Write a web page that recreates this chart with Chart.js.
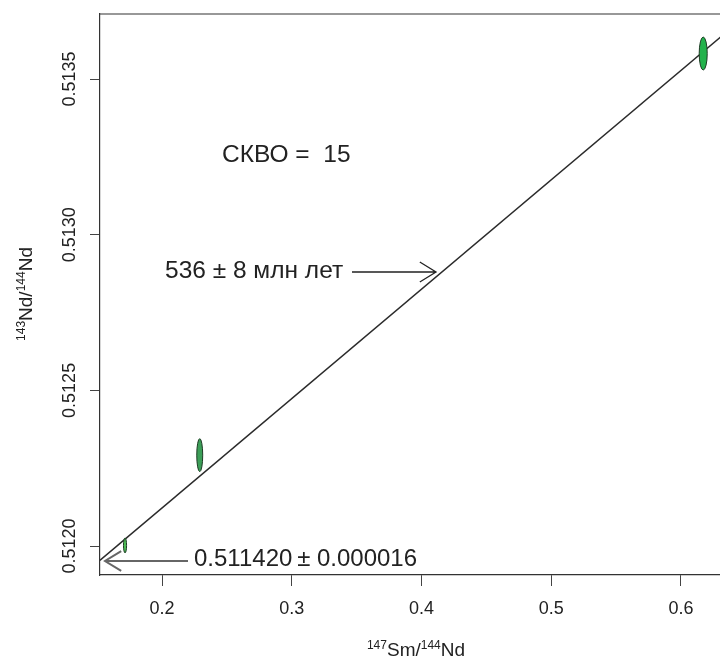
<!DOCTYPE html>
<html>
<head>
<meta charset="utf-8">
<script src="https://cdn.jsdelivr.net/npm/chart.js@4.4.1/dist/chart.umd.min.js"></script>
<style>
	html, body { margin: 0; padding: 0; background: #fff; overflow: hidden; }
	canvas { display: block; }
</style>
</head>
<body>
<canvas id="myChart" width="730" height="659"></canvas>
<script>
// ticks
const xTicks = [0.2, 0.3, 0.4, 0.5, 0.6];
const yTicks = [0.512, 0.5125, 0.513, 0.5135];

// samples (centres and half-axes of error ellipses)
const sampleX = [0.1714, 0.229, 0.6172];
const sampleY = [0.512002, 0.512292, 0.513582];
const errX = [0.0012, 0.0023, 0.0031];
const errY = [0.000024, 0.000053, 0.000053];
const ellipseFill = ['#4dbb55', '#3c9e58', '#22b24b'];

// isochron endpoints
const isoX = [0.152, 0.634];
const isoY = [0.511954, 0.513647];

const FONT = "'Liberation Sans', Arial, sans-serif";

const deco = {
	id: 'deco',
	afterDatasetsDraw(chart) {
		const { ctx, chartArea: a, scales } = chart;
		const x = scales.x, y = scales.y;
		ctx.save();
		// top of the box
		ctx.strokeStyle = '#333';
		ctx.lineWidth = 1.2;
		ctx.beginPath();
		ctx.moveTo(a.left, a.top);
		ctx.lineTo(a.right + 10, a.top);
		ctx.stroke();

		// error ellipses
		sampleX.forEach((v, i) => {
			const cx = x.getPixelForValue(v);
			const cy = y.getPixelForValue(sampleY[i]);
			const rx = Math.abs(x.getPixelForValue(v + errX[i]) - cx);
			const ry = Math.abs(y.getPixelForValue(sampleY[i] + errY[i]) - cy);
			ctx.beginPath();
			ctx.ellipse(cx, cy, rx, ry, 0, 0, Math.PI * 2);
			ctx.fillStyle = ellipseFill[i];
			ctx.fill();
			ctx.lineWidth = 1;
			ctx.strokeStyle = '#1d3b24';
			ctx.stroke();
		});
		ctx.restore();
	},
	afterDraw(chart) {
		const { ctx, scales } = chart;
		const y = scales.y;
		ctx.save();
		ctx.fillStyle = '#222';

		// y tick labels, vertical like R
		ctx.font = '18px ' + FONT;
		ctx.textAlign = 'center';
		ctx.textBaseline = 'middle';
		yTicks.forEach(v => {
			ctx.save();
			ctx.translate(70, y.getPixelForValue(v));
			ctx.rotate(-Math.PI / 2);
			ctx.fillText(v.toFixed(4), 0, 0);
			ctx.restore();
		});

		// axis titles with superscripts
		const isoLabel = (parts, cx, cy, rot) => {
			ctx.save();
			ctx.translate(cx, cy);
			ctx.rotate(rot);
			ctx.textAlign = 'left';
			ctx.textBaseline = 'alphabetic';
			let w = 0;
			parts.forEach(p => { ctx.font = (p[1] ? '12px ' : '19px ') + FONT; w += ctx.measureText(p[0]).width; });
			let px = -w / 2;
			parts.forEach(p => {
				ctx.font = (p[1] ? '12px ' : '19px ') + FONT;
				ctx.fillText(p[0], px, p[1] ? -7 : 0);
				px += ctx.measureText(p[0]).width;
			});
			ctx.restore();
		};
		isoLabel([['147', 1], ['Sm/', 0], ['144', 1], ['Nd', 0]], 416, 656, 0);
		isoLabel([['143', 1], ['Nd/', 0], ['144', 1], ['Nd', 0]], 32, 294, -Math.PI / 2);

		// annotations
		ctx.textAlign = 'left';
		ctx.textBaseline = 'middle';
		ctx.font = '24.5px ' + FONT;
		ctx.fillText('СКВО =  15', 222, 155);
		ctx.fillText('536 ± 8 млн лет', 165, 271);
		ctx.font = '24px ' + FONT;
		ctx.fillText('0.511420\u2009± 0.000016', 194, 559);

		const arrow = (x1, y1, x2, y2, color, lw) => {
			const ang = Math.atan2(y2 - y1, x2 - x1);
			const hl = 19, ha = 0.55;
			ctx.strokeStyle = color;
			ctx.lineWidth = lw;
			ctx.beginPath();
			ctx.moveTo(x1, y1);
			ctx.lineTo(x2, y2);
			ctx.moveTo(x2 - hl * Math.cos(ang - ha), y2 - hl * Math.sin(ang - ha));
			ctx.lineTo(x2, y2);
			ctx.lineTo(x2 - hl * Math.cos(ang + ha), y2 - hl * Math.sin(ang + ha));
			ctx.stroke();
		};
		arrow(352, 272, 436, 272, '#222', 1.3);
		arrow(188, 561, 105, 561, '#666', 2);
		ctx.restore();
	},
};

new Chart(document.getElementById('myChart').getContext('2d'), {
	type: 'scatter',
	data: {
		datasets: [
			{
				type: 'line',
				data: isoX.map((v, i) => ({ x: v, y: isoY[i] })),
				borderColor: '#2b2b2b',
				borderWidth: 1.4,
				pointRadius: 0,
				fill: false,
			},
			{
				data: sampleX.map((v, i) => ({ x: v, y: sampleY[i] })),
				pointRadius: 0,
				backgroundColor: ellipseFill,
			},
		],
	},
	options: {
		responsive: false,
		animation: false,
		devicePixelRatio: 1,
		layout: { padding: { top: 14, right: 5, left: 0, bottom: 0 } },
		plugins: { legend: { display: false }, tooltip: { enabled: false } },
		scales: {
			x: {
				type: 'linear',
				min: 0.1521,
				max: 0.634,
				afterBuildTicks: s => { s.ticks = xTicks.map(v => ({ value: v })); },
				afterFit: s => { s.height = 84; },
				ticks: {
					color: '#222',
					font: { family: FONT, size: 18 },
					padding: 12,
					callback: v => v.toFixed(1),
				},
				border: { display: true, color: '#333', width: 1.2 },
				grid: { drawOnChartArea: false, drawTicks: true, tickLength: 11, color: '#444', lineWidth: 1 },
			},
			y: {
				type: 'linear',
				min: 0.511907,
				max: 0.513709,
				afterBuildTicks: s => { s.ticks = yTicks.map(v => ({ value: v })); },
				afterFit: s => { s.width = 100; },
				ticks: { color: 'rgba(0,0,0,0)', font: { size: 10 } },
				border: { display: true, color: '#333', width: 1.2 },
				grid: { drawOnChartArea: false, drawTicks: true, tickLength: 10, color: '#444', lineWidth: 1 },
			},
		},
	},
	plugins: [deco],
});
</script>
</body>
</html>
